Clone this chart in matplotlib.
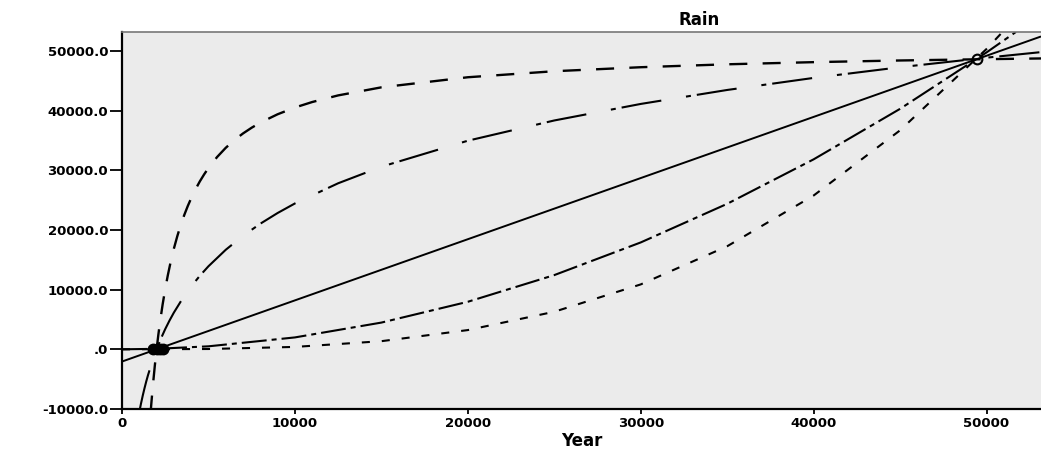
import numpy as np
import matplotlib
matplotlib.use("Agg")
import matplotlib.pyplot as plt

plt.rcParams['font.family'] = ['DejaVu Sans']
plt.rcParams['lines.scale_dashes'] = False

# observed points: lower cluster (drawn filled) and the upper point
low_x = [1800, 2000, 2200, 2400]
low_y = [0, 0, 0, 0]
up_x = [49420]
up_y = [48580]

# fitted curves, values
lin_x = [0, 53150]
lin_y = [-2050, 52400]

inv_x = [1650, 1700, 1750, 1800, 1900, 2000, 2100, 2200, 2350, 2500, 2650, 2800,
         3000, 3200, 3400, 3600, 3800, 4000, 4250, 4500, 4750, 5000, 5500, 6000,
         6500, 7000, 7500, 8000, 9000, 10000, 11000, 12500, 15000, 20000, 25000,
         30000, 35000, 40000, 45000, 50000, 53150]
inv_y = [-10760, -8960, -7260, -5650, -2690, -20, 2390, 4585, 7520, 10110, 12400,
         14450, 16860, 18970, 20840, 22490, 23970, 25300, 26800, 28120, 29300,
         30370, 32210, 33750, 35050, 36160, 37120, 37970, 39370, 40500, 41420,
         42530, 43880, 45570, 46580, 47250, 47740, 48100, 48380, 48600, 48720]

log_x = [1030, 1100, 1200, 1300, 1400, 1500, 1750, 2000, 2250, 2500, 2750, 3000,
         3500, 4000, 4500, 5000, 6000, 7000, 8000, 9000, 10000, 12500, 15000,
         20000, 25000, 30000, 35000, 40000, 45000, 50000, 53150]
log_y = [-10070, -9070, -7750, -6540, -5410, -4370, -2030, 0, 1790, 3390, 4830,
         6150, 8490, 10520, 12310, 13910, 16670, 19010, 21040, 22830, 24430,
         27810, 30580, 34940, 38330, 41100, 43440, 45460, 47250, 48850, 49780]

quad_x = [0, 2000, 5000, 10000, 15000, 20000, 25000, 30000, 35000, 40000,
          45000, 50000, 51700]
quad_y = [0, 80, 500, 1990, 4475, 7960, 12430, 17900, 24370, 31820, 40280,
          49730, 53160]

cub_x = [0, 5000, 10000, 15000, 20000, 25000, 30000, 35000, 40000, 45000,
         50000, 50930]
cub_y = [0, 50, 400, 1360, 3220, 6290, 10870, 17260, 25760, 36680, 50310,
         53170]

x_ticks = [0, 10000, 20000, 30000, 40000, 50000]
x_labels = ['0', '10000', '20000', '30000', '40000', '50000']
y_ticks = [-10000, 0, 10000, 20000, 30000, 40000, 50000]
y_labels = ['-10000.0', '.0', '10000.0', '20000.0', '30000.0', '40000.0', '50000.0']

fig = plt.figure(figsize=(10.41, 4.51), dpi=100)
ax = fig.add_axes([122 / 1041, 1 - 409 / 451, 1 - 122 / 1041, (409 - 32) / 451])
ax.set_facecolor('#ebebeb')

ax.plot(lin_x, lin_y, color='black', lw=1.4, solid_capstyle='butt')
ax.plot(inv_x, inv_y, color='black', lw=1.7, linestyle=(0, (13, 11)))
ax.plot(log_x, log_y, color='black', lw=1.5, linestyle=(0, (29, 18, 3.6, 4.3)))
ax.plot(quad_x, quad_y, color='black', lw=1.5, linestyle=(0, (18, 3.6, 3.6, 3.6)))
ax.plot(cub_x, cub_y, color='black', lw=1.5, linestyle=(0, (5.8, 8.6)))

ax.plot(low_x, low_y, linestyle='none', marker='o', markersize=7,
        markerfacecolor='black', markeredgecolor='black', markeredgewidth=1.5,
        zorder=5)
ax.plot(up_x, up_y, linestyle='none', marker='o', markersize=7,
        markerfacecolor='none', markeredgecolor='black', markeredgewidth=1.5,
        zorder=5)

ax.set_xlim(0, 53150)
ax.set_ylim(-10000, 53150)

ax.set_xticks(x_ticks)
ax.set_xticklabels(x_labels, fontsize=9.5, fontweight='bold')
ax.set_yticks(y_ticks)
ax.set_yticklabels(y_labels, fontsize=9.5, fontweight='bold')
ax.tick_params(axis='y', direction='out', length=9, width=1.3, pad=1)
ax.tick_params(axis='x', direction='out', length=3.5, width=1.3, pad=2)

for s in ['left', 'bottom']:
    ax.spines[s].set_color('black')
    ax.spines[s].set_linewidth(1.6)
ax.spines['top'].set_color('#777777')
ax.spines['top'].set_linewidth(1.2)
ax.spines['right'].set_visible(False)

ax.set_xlabel('Year', fontsize=12, fontweight='bold', labelpad=2)
fig.text(699 / 1041, 1 - 20 / 451, 'Rain', fontsize=12, fontweight='bold',
         ha='center', va='center')

fig.savefig('out.png', dpi=100)
